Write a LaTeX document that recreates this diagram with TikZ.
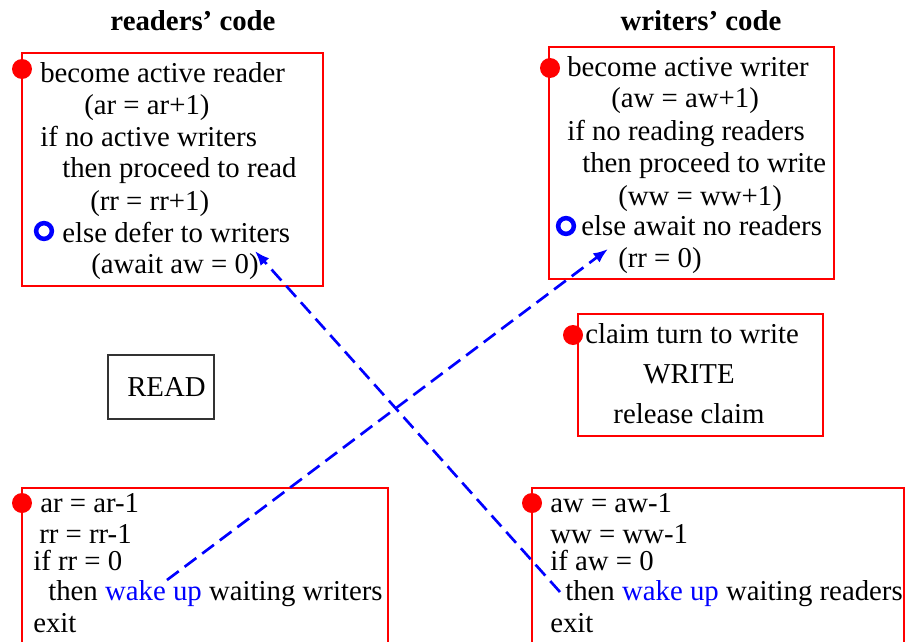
\documentclass[tikz,border=0pt]{standalone}
\usepackage{fontspec}
\setmainfont{Liberation Serif}
\definecolor{rwRed}{HTML}{FF0000}
\definecolor{rwBlue}{HTML}{0000FF}
\definecolor{rwInk}{HTML}{333333}
\usetikzlibrary{arrows.meta}
\tikzset{
  codebox/.style={draw=rwRed, line width=0.8pt},
  codeline/.style={anchor=base west, inner sep=0pt},
  entrydot/.style={fill=rwRed},
  waitring/.style={draw=rwBlue, line width=3.4pt},
  wakeup/.style={draw=rwBlue, line width=2pt, dash pattern=on 11pt off 5.5pt,
    -{Latex[length=11pt,width=8.5pt]}},
}
\begin{document}
\begin{tikzpicture}[x=0.75pt, y=-0.75pt, font=\fontsize{21.6}{24}\selectfont]
  \useasboundingbox (0,0) rectangle (906,642);
  % headings
  \node[anchor=base, inner sep=0pt, font=\fontsize{21.6}{24}\selectfont\bfseries] (rdHead) at (193,31) {readers’ code};
  \node[anchor=base, inner sep=0pt, font=\fontsize{21.6}{24}\selectfont\bfseries] (wrHead) at (701,31) {writers’ code};

  % readers' entry
  \draw[codebox] (22,53) rectangle (323,286);
  \fill[entrydot] (22,69) circle (7.5pt);
  \node[codeline] (rdIn1) at (40,83)  {become active reader};
  \node[codeline] (rdIn2) at (84,114) {(ar = ar+1)};
  \node[codeline] (rdIn3) at (40,146) {if no active writers};
  \node[codeline] (rdIn4) at (62,177) {then proceed to read};
  \node[codeline] (rdIn5) at (90,210) {(rr = rr+1)};
  \node[codeline] (rdIn6) at (62,242) {else defer to writers};
  \node[codeline] (rdIn7) at (91,273) {(await aw = 0)};
  \draw[waitring] (44,231) circle (5.9pt);

  % writers' entry
  \draw[codebox] (549,47) rectangle (834,279);
  \fill[entrydot] (550,68) circle (7.5pt);
  \node[codeline] (wrIn1) at (567,76)  {become active writer};
  \node[codeline] (wrIn2) at (611,108) {(aw = aw+1)};
  \node[codeline] (wrIn3) at (567,140) {if no reading readers};
  \node[codeline] (wrIn4) at (582,172) {then proceed to write};
  \node[codeline] (wrIn5) at (618,205) {(ww = ww+1)};
  \node[codeline] (wrIn6) at (581,235) {else await no readers};
  \node[codeline] (wrIn7) at (618,267) {(rr = 0)};
  \draw[waitring] (566,226) circle (5.9pt);

  % the work itself
  \draw[rwInk, line width=0.8pt] (108,355) rectangle (214,419);
  \node[codeline] (rdWork) at (127,396) {READ};
  \draw[codebox] (578,314) rectangle (823,436);
  \fill[entrydot] (573,335) circle (7.5pt);
  \node[codeline] (wrClaim) at (585,343) {claim turn to write};
  \node[anchor=base, inner sep=0pt] (wrWork) at (689,383) {WRITE};
  \node[anchor=base, inner sep=0pt] (wrFree) at (689,423) {release claim};

  % readers' exit
  \draw[codebox] (22,642) -- (22,488) -- (388,488) -- (388,642);
  \fill[entrydot] (22,503) circle (7.5pt);
  \node[codeline] (rdOut1) at (40,512) {ar = ar-1};
  \node[codeline] (rdOut2) at (39,543) {rr = rr-1};
  \node[codeline] (rdOut3) at (33,570) {if rr = 0};
  \node[codeline] (rdOut4) at (48,600) {then \textcolor{rwBlue}{wake up} waiting writers};
  \node[codeline] (rdOut5) at (33,632) {exit};

  % writers' exit
  \draw[codebox] (532,642) -- (532,488) -- (904,488) -- (904,642);
  \fill[entrydot] (532,503) circle (7.5pt);
  \node[codeline] (wrOut1) at (550,512) {aw = aw-1};
  \node[codeline] (wrOut2) at (550,543) {ww = ww-1};
  \node[codeline] (wrOut3) at (550,570) {if aw = 0};
  \node[codeline] (wrOut4) at (565,600) {then \textcolor{rwBlue}{wake up} waiting readers};
  \node[codeline] (wrOut5) at (550,632) {exit};

  % wake-up signals
  \coordinate (wakeRd) at (560,592);
  \coordinate (waitRd) at (255,251);
  \coordinate (wakeWr) at (167,580);
  \coordinate (waitWr) at (608,249);
  \draw[wakeup] (wakeRd) -- (waitRd);
  \draw[wakeup] (wakeWr) -- (waitWr);
\end{tikzpicture}
\end{document}
